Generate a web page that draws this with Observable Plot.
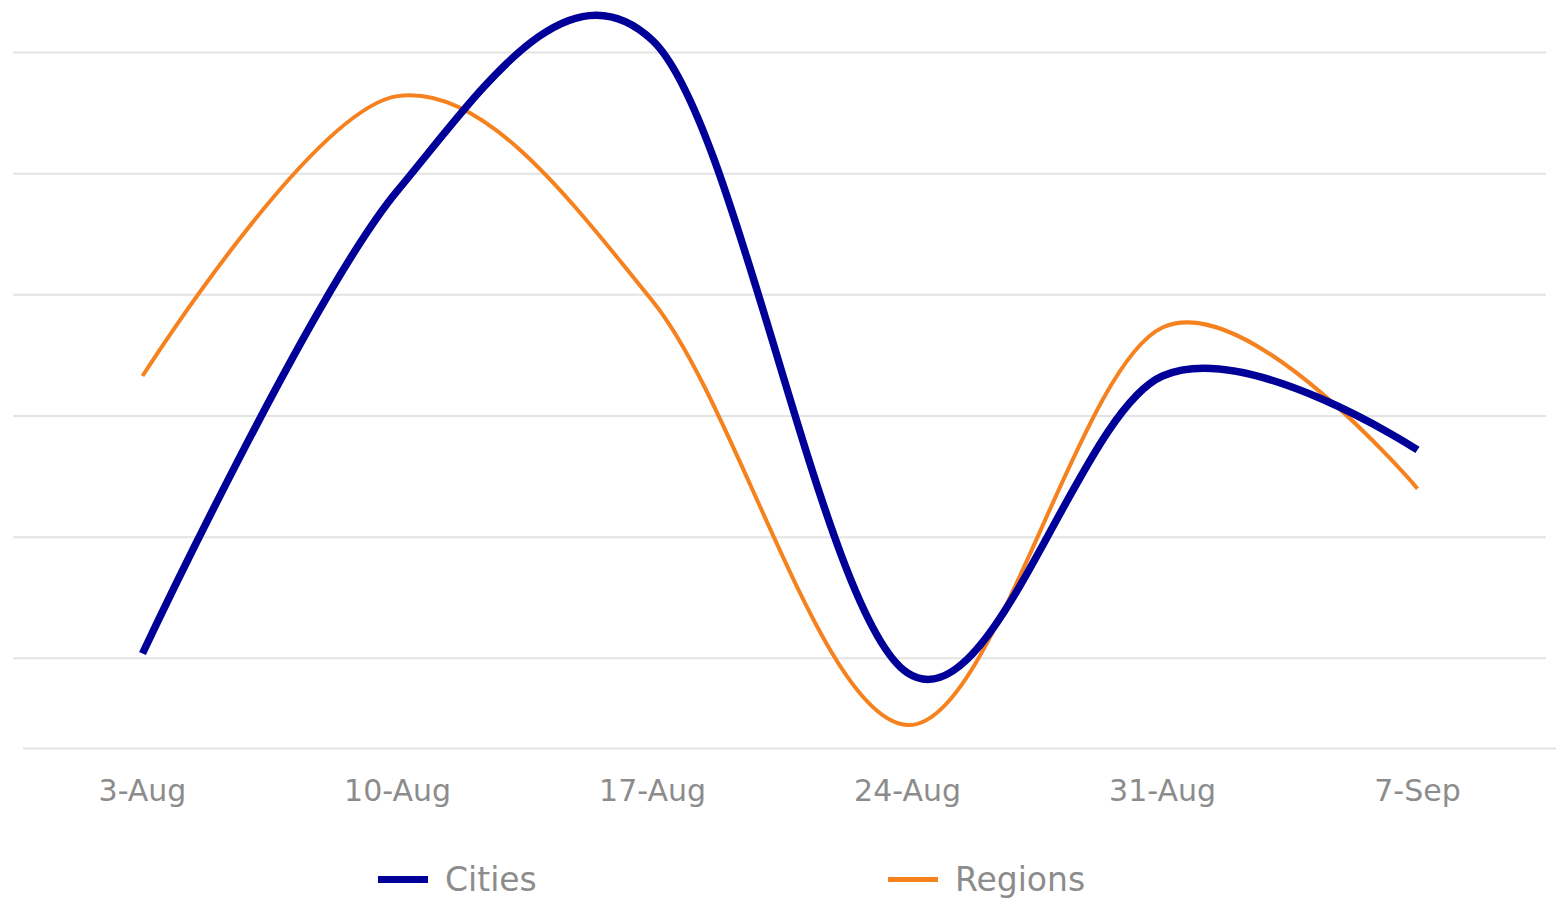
<!DOCTYPE html>
<html>
<head>
<meta charset="utf-8">
<script src="https://cdn.jsdelivr.net/npm/d3@7"></script>
<script src="https://cdn.jsdelivr.net/npm/@observablehq/plot@0.6"></script>
<style>
  html, body { margin: 0; padding: 0; background: #ffffff; }
  #wrap { position: relative; width: 1560px; height: 900px; font-family: "DejaVu Sans", sans-serif; }
  #legend { position: absolute; top: 852px; left: 0; width: 1560px; height: 50px; }
  .item { position: absolute; top: 0; display: flex; align-items: center; height: 54px; color: #8c8c8c; font-size: 33px; }
  .sw { display: inline-block; width: 50px; margin-right: 17px; }
</style>
</head>
<body>
<div id="wrap">
  <div id="chart"></div>
  <div id="legend"></div>
</div>
<script>
const dates = ["3-Aug", "10-Aug", "17-Aug", "24-Aug", "31-Aug", "7-Sep"];
const cities = [10.4, 48.6, 61.0, 8.8, 33.3, 27.2];
const regions = [33.3, 56.4, 39.5, 4.5, 37.3, 24.0];
const gridValues = [10, 20, 30, 40, 50, 60];
const yMin = 2.56;
const yMax = 60;

const seriesNames = ["Cities", "Regions"];
const seriesColors = ["#000099", "#f5821f"];
const seriesWidths = [7.5, 4];

const citiesData = dates.map((d, i) => ({date: d, value: cities[i]}));
const regionsData = dates.map((d, i) => ({date: d, value: regions[i]}));

const plot = Plot.plot({
  width: 1560,
  height: 850,
  marginTop: 52,
  marginBottom: 102,
  marginLeft: 13,
  marginRight: 14,
  style: {background: "transparent", fontFamily: "DejaVu Sans, sans-serif"},
  x: {type: "point", domain: dates, padding: 0.5, label: null},
  y: {domain: [yMin, yMax], axis: null},
  marks: [
    Plot.ruleY(gridValues, {stroke: "#e3e3e3", strokeWidth: 2}),
    Plot.ruleY([yMin], {stroke: "#e3e3e3", strokeWidth: 2, dx: 10}),
    Plot.axisX({tickSize: 0, tickPadding: 31, fontSize: 30, color: "#8c8c8c", label: null}),
    Plot.line(regionsData, {x: "date", y: "value", curve: "cardinal", stroke: seriesColors[1], strokeWidth: seriesWidths[1], strokeLinecap: "butt"}),
    Plot.line(citiesData, {x: "date", y: "value", curve: "cardinal", stroke: seriesColors[0], strokeWidth: seriesWidths[0], strokeLinecap: "butt"})
  ]
});
plot.querySelectorAll("text").forEach(t => t.setAttribute("fill", "#8c8c8c"));
document.getElementById("chart").appendChild(plot);

const legend = document.getElementById("legend");
const legendLefts = [378, 888];
seriesNames.forEach((name, i) => {
  const item = document.createElement("div");
  item.className = "item";
  item.style.left = legendLefts[i] + "px";
  const sw = document.createElement("span");
  sw.className = "sw";
  sw.style.height = (i === 0 ? 7 : 5) + "px";
  sw.style.background = seriesColors[i];
  const label = document.createElement("span");
  label.textContent = name;
  item.appendChild(sw);
  item.appendChild(label);
  legend.appendChild(item);
});
</script>
</body>
</html>
